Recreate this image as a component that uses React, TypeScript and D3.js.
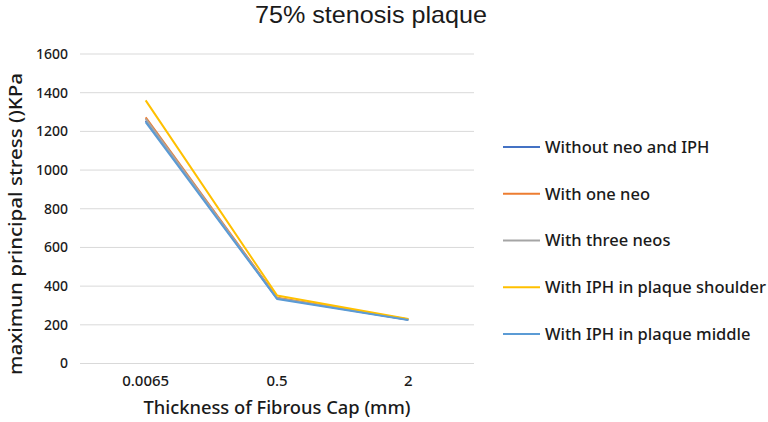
import React from 'react'
import * as d3 from 'd3'

const categories = ['0.0065', '0.5', '2']
const seriesNames = [
  'Without neo and IPH',
  'With one neo',
  'With three neos',
  'With IPH in plaque shoulder',
  'With IPH in plaque middle',
]
const withoutNeo = [1255, 338, 226]
const oneNeo = [1272, 340, 228]
const threeNeos = [1265, 337, 227]
const iphShoulder = [1360, 352, 230]
const iphMiddle = [1248, 334, 225]
const yTicks = [0, 200, 400, 600, 800, 1000, 1200, 1400, 1600]
const colors = ['#4472C4', '#ED7D31', '#A5A5A5', '#FFC000', '#5B9BD5']

const series = [withoutNeo, oneNeo, threeNeos, iphShoulder, iphMiddle]

const W = 768
const H = 422
const font = '"Noto Sans", "Open Sans", sans-serif'

export default function App() {
  const x = d3.scaleBand<string>().domain(categories).range([80, 474])
  const y = d3.scaleLinear().domain([0, 1600]).range([363.5, 54])
  const cx = (c: string) => (x(c) ?? 0) + x.bandwidth() / 2

  const line = d3
    .line<number>()
    .x((_, i) => cx(categories[i]))
    .y(d => y(d))

  const legendY = d3.scalePoint<string>().domain(seriesNames).range([147, 334])

  return (
    <div style={{ position: 'fixed', left: 0, top: 0 }}>
      <svg width={W} height={H} style={{ display: 'block', background: '#fff' }}>
        {/* title font with a small ascent so it stays inside the top edge */}
        <text
          x={371}
          y={22.5}
          textAnchor="middle"
          fontFamily={'"Liberation Sans", Arimo, sans-serif'}
          fontSize={24}
          fill="#1a1a1a"
          textLength={232}
          lengthAdjust="spacingAndGlyphs"
        >
          75% stenosis plaque
        </text>

        {yTicks.map(t => (
          <g key={t}>
            <line x1={80} x2={474} y1={y(t)} y2={y(t)} stroke="#D9D9D9" strokeWidth={1} />
            <text
              x={68}
              y={y(t)}
              dy="0.35em"
              textAnchor="end"
              fontFamily={font}
              fontSize={14}
              fontWeight={500}
              fill="#1a1a1a"
            >
              {t}
            </text>
          </g>
        ))}

        {categories.map(c => (
          <text
            key={c}
            x={cx(c)}
            y={386}
            textAnchor="middle"
            fontFamily={font}
            fontSize={15}
            fontWeight={500}
            fill="#1a1a1a"
          >
            {c}
          </text>
        ))}

        <text
          x={277}
          y={414}
          textAnchor="middle"
          fontFamily={font}
          fontSize={17.5}
          fontWeight={500}
          fill="#1a1a1a"
          textLength={267}
          lengthAdjust="spacingAndGlyphs"
        >
          Thickness of Fibrous Cap (mm)
        </text>

        <text
          transform={`translate(22, 224) rotate(-90)`}
          textAnchor="middle"
          fontFamily={font}
          fontSize={17.5}
          fontWeight={500}
          fill="#1a1a1a"
          textLength={302}
          lengthAdjust="spacingAndGlyphs"
        >
          maximun principal stress ()KPa
        </text>

        {series.map((s, i) => (
          <path
            key={seriesNames[i]}
            d={line(s) ?? ''}
            fill="none"
            stroke={colors[i]}
            strokeWidth={2}
            strokeLinejoin="round"
          />
        ))}

        {seriesNames.map((n, i) => {
          const ly = legendY(n) ?? 0
          return (
            <g key={n}>
              <line x1={503} x2={540} y1={ly} y2={ly} stroke={colors[i]} strokeWidth={2} />
              <text
                x={545}
                y={ly}
                dy="0.35em"
                fontFamily={font}
                fontSize={16.5}
                fontWeight={500}
                fill="#1a1a1a"
              >
                {n}
              </text>
            </g>
          )
        })}
      </svg>
    </div>
  )
}
